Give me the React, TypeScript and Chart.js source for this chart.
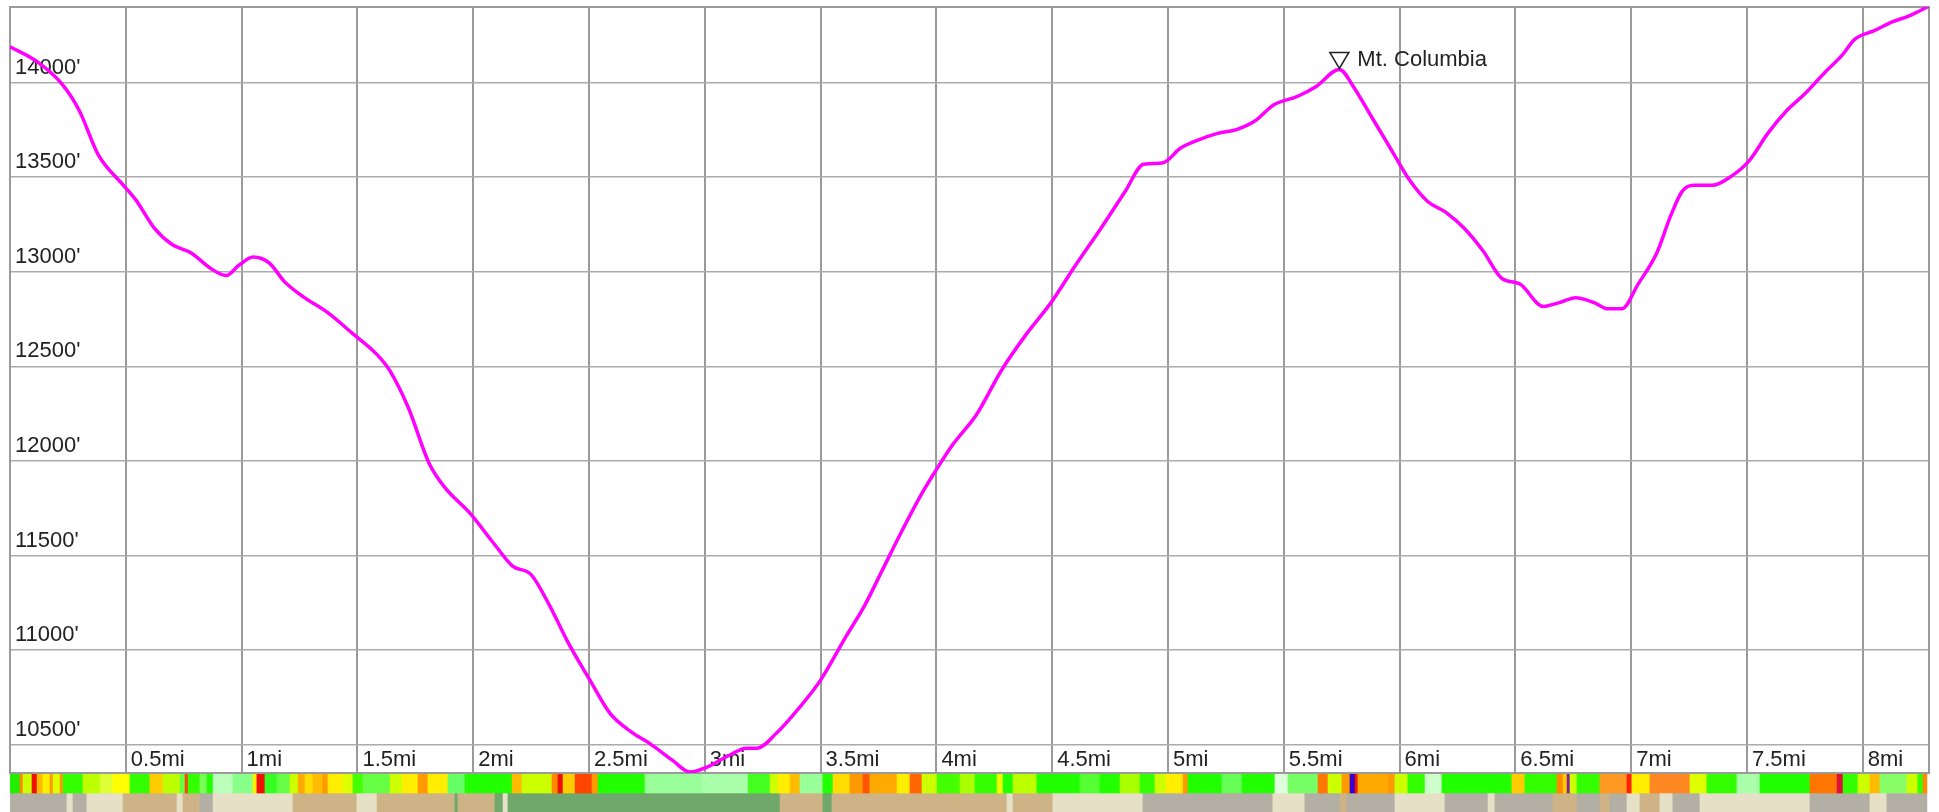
import React, { useEffect, useRef } from 'react';
import { Chart, registerables } from 'chart.js';

Chart.register(...registerables);

// ---------- elevation profile ----------
const DIST_MI = [
  0.0, 0.117, 0.224, 0.3, 0.38, 0.49, 0.544, 0.624, 0.7, 0.784, 0.864, 0.934, 0.987, 1.05, 1.12,
  1.185, 1.265, 1.372, 1.48, 1.585, 1.64, 1.72, 1.81, 1.88, 1.985, 2.09, 2.17, 2.25, 2.33, 2.41,
  2.504, 2.59, 2.69, 2.76, 2.86, 2.936, 3.01, 3.1, 3.18, 3.225, 3.31, 3.41, 3.5, 3.61, 3.69,
  3.77, 3.85, 3.935, 4.0, 4.07, 4.175, 4.28, 4.39, 4.495, 4.6, 4.71, 4.815, 4.895, 4.975, 5.055,
  5.135, 5.215, 5.296, 5.375, 5.456, 5.56, 5.64, 5.74, 5.8, 5.88, 5.96, 6.04, 6.12, 6.2, 6.28,
  6.36, 6.44, 6.52, 6.62, 6.69, 6.76, 6.84, 6.9, 6.96, 7.03, 7.11, 7.17, 7.22, 7.27, 7.35,
  7.43, 7.51, 7.59, 7.67, 7.75, 7.83, 7.91, 7.965, 8.05, 8.125, 8.2, 8.286,
];
const ELEV_FT = [
  14190, 14111, 13993, 13850, 13621, 13457, 13379, 13229, 13144, 13098, 13020, 12980, 13033, 13078, 13046,
  12948, 12869, 12784, 12673, 12562, 12477, 12281, 11987, 11856, 11725, 11562, 11444, 11399, 11235, 11039,
  10841, 10667, 10561, 10508, 10418, 10355, 10381, 10440, 10481, 10481, 10561, 10698, 10841, 11072, 11235,
  11431, 11627, 11823, 11954, 12085, 12248, 12477, 12673, 12837, 13033, 13229, 13425, 13569, 13575, 13654,
  13699, 13732, 13752, 13797, 13882, 13928, 13980, 14070, 13980, 13817, 13654, 13490, 13373, 13314, 13229,
  13111, 12967, 12935, 12817, 12837, 12863, 12837, 12804, 12804, 12935, 13098, 13294, 13425, 13457, 13457,
  13503, 13588, 13732, 13850, 13941, 14046, 14144, 14229, 14275, 14320, 14353, 14405,
];

const X_TICKS = [0, 0.5, 1, 1.5, 2, 2.5, 3, 3.5, 4, 4.5, 5, 5.5, 6, 6.5, 7, 7.5, 8];
const Y_TICKS = [10500, 11000, 11500, 12000, 12500, 13000, 13500, 14000];
const X_MIN = 0;
const X_MAX = 8.286;
const Y_MIN = 10350;
const Y_MAX = 14400;

const PEAK_NAME = 'Mt. Columbia';
const PEAK_MI = 5.74;
const PEAK_FT = 14070;

// ---------- slope-angle shading strip ----------
const SLOPE_STARTS = [
  0.0, 0.043, 0.056, 0.095, 0.117, 0.142, 0.173, 0.186, 0.216, 0.229, 0.315, 0.389, 0.445, 0.518, 0.604,
  0.661, 0.734, 0.756, 0.769, 0.82, 0.851, 0.877, 0.963, 1.049, 1.066, 1.101, 1.153, 1.209, 1.244, 1.274,
  1.308, 1.351, 1.373, 1.438, 1.481, 1.524, 1.641, 1.693, 1.762, 1.805, 1.891, 1.965, 2.168, 2.211, 2.34,
  2.366, 2.388, 2.44, 2.513, 2.539, 2.742, 2.988, 3.187, 3.282, 3.316, 3.368, 3.411, 3.51, 3.554, 3.627,
  3.683, 3.713, 3.83, 3.886, 3.938, 4.003, 4.102, 4.167, 4.262, 4.288, 4.331, 4.434, 4.62, 4.706, 4.793,
  4.879, 4.944, 4.991, 5.065, 5.086, 5.233, 5.32, 5.462, 5.518, 5.648, 5.691, 5.751, 5.786, 5.808, 5.82,
  5.95, 5.98, 6.036, 6.11, 6.183, 6.485, 6.541, 6.68, 6.706, 6.723, 6.736, 6.766, 6.865, 6.982, 7.003,
  7.081, 7.254, 7.327, 7.457, 7.556, 7.772, 7.889, 7.915, 7.979, 8.031, 8.074, 8.191, 8.238, 8.26,
];
const SLOPE_COLORS = [
  '#22ee00', '#ff8800', '#ccff00', '#ee1100', '#ffbb00', '#ffee00', '#ff9900', '#ddff00', '#ff9900', '#33ff00', '#bbff00', '#ddff33', '#ffff00', '#33ff00', '#ffcc00',
  '#bbff00', '#66ff44', '#ff4400', '#33ff00', '#77ff55', '#22ff00', '#bbffbb', '#88ff88', '#ffee00', '#ee1100', '#33ff22', '#66ff44', '#ccff00', '#ffaa00', '#ffdd00',
  '#ffbb00', '#ff9900', '#ffee00', '#ddff00', '#44ff00', '#66ff44', '#ccff00', '#ffee00', '#ff9900', '#ffee00', '#66ff66', '#22ff00', '#ffbb00', '#ccff00', '#ff8800',
  '#ee1100', '#ffcc00', '#ff4400', '#ff9900', '#22ff00', '#99ff99', '#aaffaa', '#44ff22', '#ccff00', '#ffee00', '#ffbb00', '#99ff99', '#22ff00', '#ffdd00', '#ff9900',
  '#ff5500', '#ffaa00', '#ffee00', '#ff6600', '#ccff00', '#44ff00', '#aaff00', '#33ff00', '#eeff00', '#22ff00', '#bbff00', '#22ff00', '#55ff33', '#22ff00', '#aaff00',
  '#33ff00', '#ccff00', '#ffee00', '#ff9900', '#22ff00', '#66ff55', '#22ff00', '#ddffdd', '#77ff66', '#ff7700', '#ccff00', '#ff9900', '#3300cc', '#ff1100', '#ffaa00',
  '#ff9900', '#ccff00', '#33ff00', '#ccffcc', '#22ff00', '#ffcc00', '#33ff00', '#ff8800', '#ffcc00', '#882299', '#ccff00', '#33ff00', '#ff9922', '#ff2200', '#ffee00',
  '#ff8822', '#ddff00', '#33ff00', '#aaffaa', '#22ff00', '#ff7700', '#dd1133', '#33ff00', '#ccff00', '#ffbb00', '#88ff66', '#ccff00', '#33ff00', '#ff8800',
];

// ---------- terrain shading strip ----------
const TERRAIN_STARTS = [
  0.0, 0.246, 0.272, 0.332, 0.488, 0.721, 0.747, 0.82, 0.877, 1.222, 1.498, 1.585, 1.921, 1.934, 2.094,
  2.129, 2.15, 3.325, 3.51, 3.549, 4.305, 4.331, 4.503, 4.892, 5.453, 5.591, 5.743, 5.773, 5.98, 6.196,
  6.382, 6.412, 6.662, 6.766, 6.865, 6.908, 6.982, 7.038, 7.124, 7.18, 7.297, 7.772, 8.031, 8.104,
];
const TERRAIN_COLORS = [
  '#b4afa5', '#e6e0c6', '#b4afa5', '#e6e0c6', '#cdb385', '#e6e0c6', '#cdb385', '#b4afa5', '#e6e0c6', '#cdb385', '#e6e0c6', '#cdb385', '#70a86c', '#cdb385', '#70a86c',
  '#e6e0c6', '#70a86c', '#cdb385', '#70a86c', '#cdb385', '#e6e0c6', '#cdb385', '#e6e0c6', '#b4afa5', '#e6e0c6', '#b4afa5', '#cdb385', '#b4afa5', '#e6e0c6', '#b4afa5',
  '#e6e0c6', '#b4afa5', '#cdb385', '#b4afa5', '#cdb385', '#b4afa5', '#e6e0c6', '#cdb385', '#e6e0c6', '#b4afa5', '#e6e0c6', '#b4afa5', '#e6e0c6', '#b4afa5',
];
const STRIPE_END = 8.277;

const FONT_FAMILY = "'Liberation Sans', Arial, Helvetica, sans-serif";

const framePlugin = {
  id: 'frame',
  beforeDatasetsDraw(chart: any) {
    const { ctx, chartArea } = chart;
    ctx.save();
    ctx.strokeStyle = '#9a9a9a';
    ctx.lineWidth = 2;
    ctx.strokeRect(chartArea.left, chartArea.top, chartArea.right - chartArea.left, chartArea.bottom - chartArea.top);
    ctx.restore();
  },
};

const peakPlugin = {
  id: 'peakLabel',
  afterDatasetsDraw(chart: any) {
    const { ctx, scales } = chart;
    const px = scales.x.getPixelForValue(PEAK_MI);
    const py = scales.y.getPixelForValue(PEAK_FT);
    const tipY = py - 1;
    const h = 16;
    const w = 19;
    ctx.save();
    ctx.beginPath();
    ctx.moveTo(px, tipY);
    ctx.lineTo(px - w / 2, tipY - h);
    ctx.lineTo(px + w / 2, tipY - h);
    ctx.closePath();
    ctx.fillStyle = '#ffffff';
    ctx.fill();
    ctx.strokeStyle = '#222';
    ctx.lineWidth = 1.5;
    ctx.stroke();
    ctx.fillStyle = '#222';
    ctx.font = `22px ${FONT_FAMILY}`;
    ctx.textBaseline = 'middle';
    ctx.textAlign = 'left';
    ctx.fillText(PEAK_NAME, px + 18, tipY - h / 2);
    ctx.restore();
  },
};

export default function App() {
  const profileRef = useRef<HTMLCanvasElement>(null);
  const stripRef = useRef<HTMLCanvasElement>(null);

  useEffect(() => {
    const tickFont = { family: FONT_FAMILY, size: 22 };
    const profile = new Chart(profileRef.current as HTMLCanvasElement, {
      type: 'line',
      data: {
        datasets: [
          {
            data: DIST_MI.map((x, i) => ({ x, y: ELEV_FT[i] })),
            borderColor: '#ff00ff',
            borderWidth: 3.5,
            pointRadius: 0,
            cubicInterpolationMode: 'monotone',
            fill: false,
          },
        ],
      },
      options: {
        responsive: false,
        animation: false,
        layout: { padding: { left: 10, right: 10, top: 7, bottom: 3 } },
        plugins: { legend: { display: false }, tooltip: { enabled: false }, title: { display: false } },
        scales: {
          x: {
            type: 'linear',
            min: X_MIN,
            max: X_MAX,
            afterBuildTicks: (s: any) => {
              s.ticks = X_TICKS.map((v) => ({ value: v }));
            },
            afterFit: (s: any) => {
              s.height = 0;
              s.paddingLeft = 0;
              s.paddingRight = 0;
            },
            grid: { color: '#9a9a9a', lineWidth: 2, drawTicks: false },
            border: { display: false },
            ticks: {
              mirror: true,
              padding: 0,
              align: 'start',
              labelOffset: 5,
              maxRotation: 0,
              autoSkip: false,
              color: '#222',
              font: tickFont,
              callback: (v: any) => (Number(v) === 0 ? '' : `${v}mi`),
            },
          },
          y: {
            type: 'linear',
            min: Y_MIN,
            max: Y_MAX,
            afterBuildTicks: (s: any) => {
              s.ticks = Y_TICKS.map((v) => ({ value: v }));
            },
            afterFit: (s: any) => {
              s.width = 0;
              s.paddingTop = 0;
              s.paddingBottom = 0;
            },
            grid: { color: '#ababab', lineWidth: 1.5, drawTicks: false },
            border: { display: false },
            ticks: {
              mirror: true,
              padding: 5,
              labelOffset: -15,
              color: '#222',
              font: tickFont,
              callback: (v: any) => `${v}'`,
            },
          },
        },
      },
      plugins: [framePlugin, peakPlugin],
    } as any);

    const strip = new Chart(stripRef.current as HTMLCanvasElement, {
      type: 'bar',
      data: {
        labels: ['slope', 'terrain'],
        datasets: [
          {
            data: SLOPE_STARTS.map((s, i) => ({ x: [s, i + 1 < SLOPE_STARTS.length ? SLOPE_STARTS[i + 1] : STRIPE_END], y: 'slope' })),
            backgroundColor: SLOPE_COLORS,
            borderWidth: 0,
            grouped: false,
            categoryPercentage: 1,
            barPercentage: 1,
          },
          {
            data: TERRAIN_STARTS.map((s, i) => ({ x: [s, i + 1 < TERRAIN_STARTS.length ? TERRAIN_STARTS[i + 1] : STRIPE_END], y: 'terrain' })),
            backgroundColor: TERRAIN_COLORS,
            borderWidth: 0,
            grouped: false,
            categoryPercentage: 1,
            barPercentage: 1,
          },
        ],
      },
      options: {
        indexAxis: 'y',
        responsive: false,
        animation: false,
        layout: { padding: { left: 10, right: 10, top: 0, bottom: 0 } },
        plugins: { legend: { display: false }, tooltip: { enabled: false } },
        scales: {
          x: { type: 'linear', min: X_MIN, max: X_MAX, display: false },
          y: { type: 'category', display: false },
        },
      },
    } as any);

    return () => {
      profile.destroy();
      strip.destroy();
    };
  }, []);

  return (
    <div style={{ position: 'absolute', left: 0, top: 0, width: 1939, height: 812, background: '#fff', overflow: 'hidden' }}>
      <canvas ref={profileRef} width={1939} height={776} style={{ position: 'absolute', left: 0, top: 0, width: 1939, height: 776, display: 'block' }} />
      <canvas ref={stripRef} width={1939} height={38} style={{ position: 'absolute', left: 0, top: 774, width: 1939, height: 38, display: 'block' }} />
    </div>
  );
}
